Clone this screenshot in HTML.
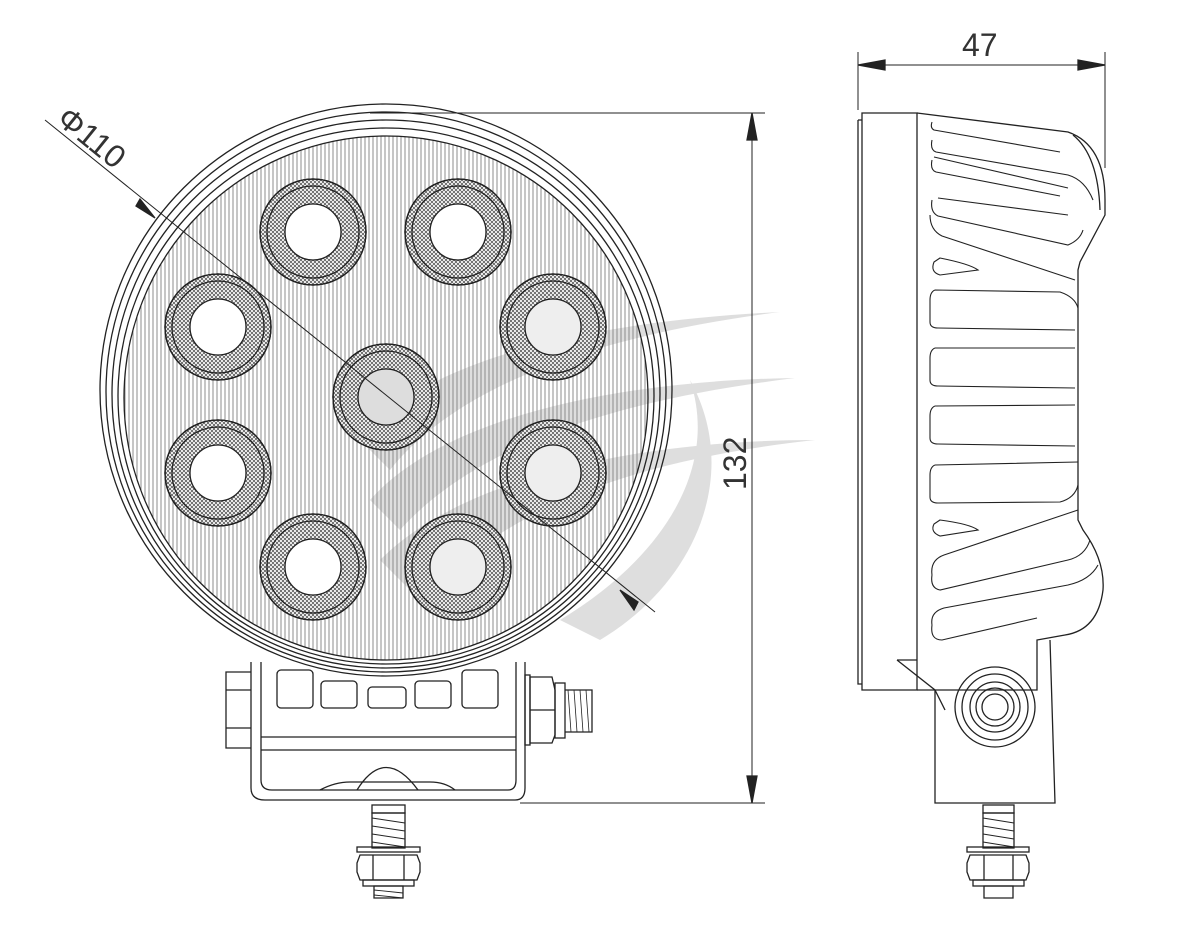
<!DOCTYPE html>
<html><head><meta charset="utf-8"><style>
html,body{margin:0;padding:0;background:#fff;}
svg{display:block;}
text{font-family:"Liberation Sans",sans-serif;fill:#333;}
</style></head><body>
<svg width="1180" height="937" viewBox="0 0 1180 937" xmlns="http://www.w3.org/2000/svg">
<defs>
<pattern id="vl" width="4" height="4" patternUnits="userSpaceOnUse"><line x1="1" y1="0" x2="1" y2="4" stroke="#7a7a7a" stroke-width="1"/></pattern>
<pattern id="xh" width="4" height="4" patternUnits="userSpaceOnUse"><path d="M0 0L4 4M4 0L0 4" stroke="#444" stroke-width="0.7"/></pattern>
</defs>
<g fill="none" stroke="#222" stroke-width="1.3">
<g stroke="none" fill="#d4d4d4" opacity="0.75">
<path d="M360 440 C430 350 620 320 780 312 C640 330 470 370 390 470 Z"/>
<path d="M370 500 C450 410 640 380 795 378 C660 395 490 430 400 530 Z"/>
<path d="M380 560 C470 470 660 440 815 440 C680 455 520 490 420 600 Z"/>
<path d="M560 620 C660 560 720 470 690 380 C740 470 700 580 600 640 Z"/>
</g>
<circle cx="386" cy="390" r="286"/>
<circle cx="386" cy="392" r="280"/>
<circle cx="386" cy="394" r="274"/>
<circle cx="386" cy="396" r="268"/>
<circle cx="386" cy="398" r="262" fill="url(#vl)" fill-opacity="0.85"/>
<g>
<g transform="translate(313,232)"><circle r="53" fill="#fff"/><circle r="53" fill="url(#xh)"/><circle r="53"/><circle r="46"/><circle r="28" fill="#fff"/></g>
<g transform="translate(458,232)"><circle r="53" fill="#fff"/><circle r="53" fill="url(#xh)"/><circle r="53"/><circle r="46"/><circle r="28" fill="#fff"/></g>
<g transform="translate(218,327)"><circle r="53" fill="#fff"/><circle r="53" fill="url(#xh)"/><circle r="53"/><circle r="46"/><circle r="28" fill="#fff"/></g>
<g transform="translate(553,327)"><circle r="53" fill="#fff"/><circle r="53" fill="url(#xh)"/><circle r="53"/><circle r="46"/><circle r="28" fill="#eee"/></g>
<g transform="translate(386,397)"><circle r="53" fill="#fff"/><circle r="53" fill="url(#xh)"/><circle r="53"/><circle r="46"/><circle r="28" fill="#ddd"/></g>
<g transform="translate(218,473)"><circle r="53" fill="#fff"/><circle r="53" fill="url(#xh)"/><circle r="53"/><circle r="46"/><circle r="28" fill="#fff"/></g>
<g transform="translate(553,473)"><circle r="53" fill="#fff"/><circle r="53" fill="url(#xh)"/><circle r="53"/><circle r="46"/><circle r="28" fill="#eee"/></g>
<g transform="translate(313,567)"><circle r="53" fill="#fff"/><circle r="53" fill="url(#xh)"/><circle r="53"/><circle r="46"/><circle r="28" fill="#fff"/></g>
<g transform="translate(458,567)"><circle r="53" fill="#fff"/><circle r="53" fill="url(#xh)"/><circle r="53"/><circle r="46"/><circle r="28" fill="#eee"/></g>
</g>
<line x1="45" y1="120" x2="655" y2="612" stroke-width="1"/>
<path d="M155 218 L140 199 L136 206 Z" fill="#222"/>
<path d="M620 590 L634 610 L638 602 Z" fill="#222"/>
<text x="0" y="0" font-size="32" stroke="none" transform="translate(55,122) rotate(38.9)">Φ110</text>
<line x1="370" y1="113" x2="765" y2="113" stroke-width="1"/>
<line x1="520" y1="803" x2="765" y2="803" stroke-width="1"/>
<line x1="752" y1="113" x2="752" y2="803" stroke-width="1"/>
<path d="M752 113 L747 140 L757 140 Z" fill="#222"/>
<path d="M752 803 L747 776 L757 776 Z" fill="#222"/>
<text font-size="32" stroke="none" transform="translate(746,490) rotate(-90)">132</text>
<path d="M251 662 L251 788 Q251 800 265 800 L515 800 Q525 800 525 788 L525 662"/>
<path d="M261 662 L261 780 Q261 790 272 790 L508 790 Q516 790 516 780 L516 662"/>
<line x1="261" y1="737" x2="516" y2="737"/>
<line x1="261" y1="750" x2="516" y2="750"/>
<path d="M357 790 Q385 745 418 790"/>
<path d="M320 790 Q335 782 350 782 L430 782 Q445 782 455 790"/>
<g>
<rect x="277" y="670" width="36" height="38" rx="4"/>
<rect x="321" y="681" width="36" height="27" rx="4"/>
<rect x="368" y="687" width="38" height="21" rx="4"/>
<rect x="415" y="681" width="36" height="27" rx="4"/>
<rect x="462" y="670" width="36" height="38" rx="4"/>
</g>
<path d="M251 672 L226 672 L226 748 L251 748"/>
<line x1="226" y1="690" x2="251" y2="690"/><line x1="226" y1="728" x2="251" y2="728"/>
<rect x="525" y="675" width="5" height="70"/>
<path d="M530 677 L552 677 L555 690 L555 735 L552 743 L530 743 Z"/>
<line x1="530" y1="710" x2="555" y2="710"/>
<rect x="555" y="683" width="10" height="55"/>
<path d="M565 690 L592 690 L592 732 L565 732"/>
<path d="M568 690 L571 732 M574 690 L577 732 M580 690 L583 732 M586 690 L589 732" stroke-width="0.8"/>
<rect x="372" y="805" width="33" height="8"/>
<path d="M372 813 L405 813 L405 848 L372 848 Z"/>
<path d="M372 818 L405 823 M372 826 L405 831 M372 834 L405 839 M372 842 L405 847" stroke-width="0.9"/>
<rect x="357" y="847" width="63" height="5"/>
<path d="M360 855 L417 855 L420 863 L420 872 L417 880 L360 880 L357 872 L357 863 Z"/>
<line x1="373" y1="855" x2="373" y2="880"/><line x1="404" y1="855" x2="404" y2="880"/>
<rect x="363" y="880" width="51" height="6"/>
<path d="M374 886 L403 886 L403 898 L374 898 Z"/>
<path d="M374 890 L403 893 M374 895 L403 898" stroke-width="0.9"/>
<line x1="858" y1="52" x2="858" y2="110" stroke-width="1"/>
<line x1="1105" y1="52" x2="1105" y2="168" stroke-width="1"/>
<line x1="858" y1="65" x2="1105" y2="65" stroke-width="1"/>
<path d="M858 65 L885 60 L885 70 Z" fill="#222"/>
<path d="M1105 65 L1078 60 L1078 70 Z" fill="#222"/>
<text x="962" y="56" font-size="32" stroke="none">47</text>
<path d="M862 113 L917 113 L917 690 L862 690 Z"/>
<path d="M858 120 L862 120 M858 120 L858 684 L862 684"/>
<path d="M917 113 L1068 132 Q1105 145 1105 200 L1105 215 L1080 262 L1078 270 L1078 520 L1083 530 Q1105 560 1103 590 Q1098 630 1065 635 L1037 640 L1037 690 L917 690"/>
<path d="M1073 135 Q1098 155 1100 210"/>
<g stroke-width="1.1">
<path d="M932 122 Q930 128 934 130 L1060 152"/>
<path d="M932 140 Q930 150 936 152 L1068 175 Q1085 180 1093 200"/>
<path d="M934 157 L1068 188 M932 160 Q930 170 936 172 L1060 196"/>
<path d="M932 200 Q930 212 938 216 L1068 245 Q1080 240 1083 230 M938 198 L1068 215"/>
<path d="M930 215 Q930 230 942 236 L1075 280"/>
<path d="M934 262 Q930 272 940 275 L978 270 Q970 264 940 258 Z"/>
<path d="M935 290 Q930 292 930 300 L930 322 Q930 328 938 328 L1075 330 M935 290 L1060 292 Q1075 297 1078 308"/>
<path d="M935 348 Q930 350 930 358 L930 380 Q930 386 938 386 L1075 388 M935 348 L1075 348"/>
<path d="M935 406 Q930 408 930 416 L930 438 Q930 444 938 444 L1075 446 M935 406 L1075 405"/>
<path d="M935 465 Q930 467 930 475 L930 497 Q930 503 938 503 L1060 502 Q1075 498 1078 485 M935 465 L1078 462"/>
<path d="M934 524 Q930 532 940 536 L978 530 Q970 524 940 520 Z"/>
<path d="M932 575 Q930 560 944 555 L1078 510"/>
<path d="M932 575 Q930 588 940 590 L1068 560 Q1085 556 1090 540"/>
<path d="M932 625 Q930 612 944 608 L1068 585 Q1090 580 1098 565"/>
<path d="M932 625 Q930 640 942 640 L1037 618"/>
</g>
<path d="M897 660 L935 690 L935 803 L1055 803 L1050 640"/>
<path d="M897 660 L917 660"/>
<line x1="935" y1="690" x2="945" y2="710"/>
<circle cx="995" cy="707" r="40"/>
<circle cx="995" cy="707" r="33"/>
<circle cx="995" cy="707" r="25"/>
<circle cx="995" cy="707" r="19"/>
<circle cx="995" cy="707" r="13"/>
<rect x="983" y="805" width="31" height="8"/>
<path d="M983 813 L1014 813 L1014 848 L983 848 Z"/>
<path d="M983 818 L1014 823 M983 826 L1014 831 M983 834 L1014 839 M983 842 L1014 847" stroke-width="0.9"/>
<rect x="967" y="847" width="62" height="5"/>
<path d="M970 855 L1026 855 L1029 863 L1029 872 L1026 880 L970 880 L967 872 L967 863 Z"/>
<line x1="984" y1="855" x2="984" y2="880"/><line x1="1013" y1="855" x2="1013" y2="880"/>
<rect x="973" y="880" width="51" height="6"/>
<path d="M984 886 L1013 886 L1013 898 L984 898 Z"/>
</g>
</svg>
</body></html>
